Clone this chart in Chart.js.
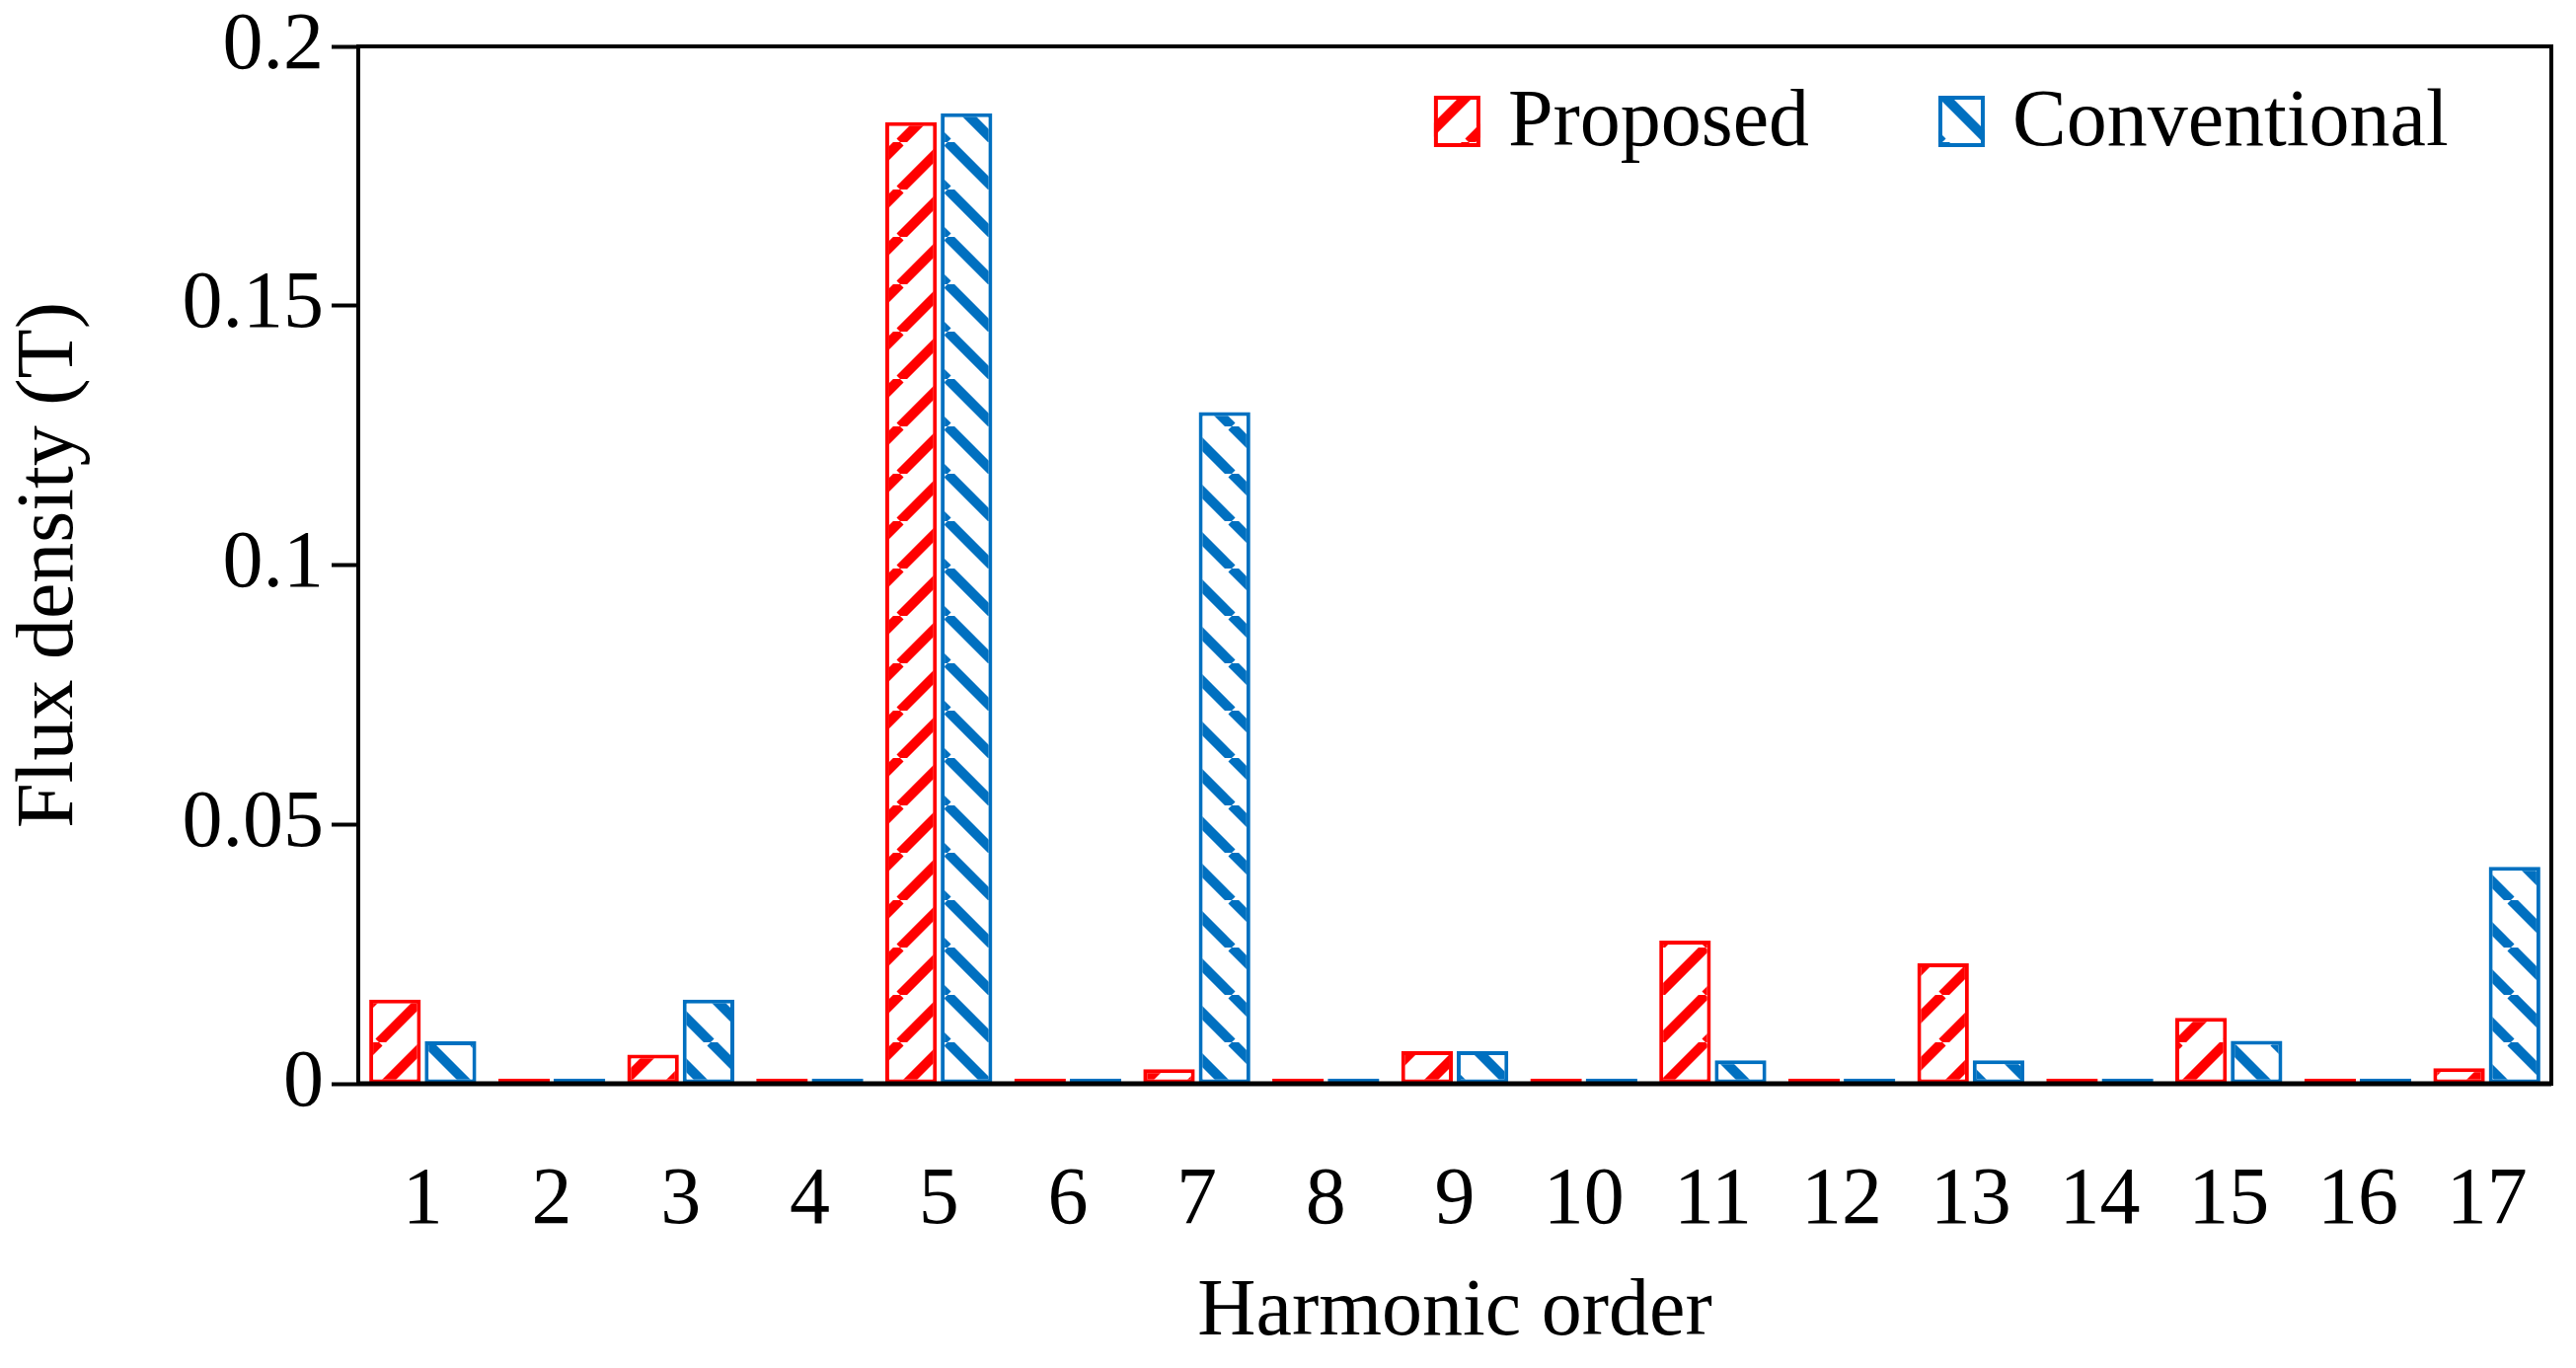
<!DOCTYPE html>
<html>
<head>
<meta charset="utf-8">
<script src="https://cdn.jsdelivr.net/npm/chart.js@4.4.1/dist/chart.umd.min.js"></script>
<style>
  html, body { margin: 0; padding: 0; background: #fff; }
</style>
</head>
<body>
<canvas id="harmonic-chart" width="2610" height="1386"></canvas>
<script>
const harmonics = ['1', '2', '3', '4', '5', '6', '7', '8', '9', '10', '11', '12', '13', '14', '15', '16', '17']
const proposed = [0.0162, 0.001, 0.0056, 0.001, 0.1854, 0.001, 0.0028, 0.001, 0.0063, 0.001, 0.0276, 0.001, 0.0232, 0.001, 0.0127, 0.001, 0.003]
const conventional = [0.0082, 0.001, 0.0162, 0.001, 0.1871, 0.001, 0.1295, 0.001, 0.0063, 0.001, 0.0045, 0.001, 0.0045, 0.001, 0.0083, 0.001, 0.0418]
const yTicks = [0, 0.05, 0.1, 0.15, 0.2]
const seriesNames = ['Proposed', 'Conventional']

const COLORS = {
  red: '#ff0000',
  blue: '#0070c0',
  black: '#000000'
}

const FONT = "'Liberation Serif', 'Times New Roman', serif"
const FONT_SIZE = 82

// diagonal hatch, "/" for proposed, "\" for conventional
const makeHatch = (color, forward) => {
  const size = 48
  const c = document.createElement('canvas')
  c.width = size
  c.height = size
  const g = c.getContext('2d')
  g.fillStyle = '#ffffff'
  g.fillRect(0, 0, size, size)
  g.strokeStyle = color
  g.lineWidth = 10
  g.beginPath()
  for (let k = -1; k <= 1; k++) {
    if (forward) {
      g.moveTo(k * size, size)
      g.lineTo(k * size + size, 0)
    } else {
      g.moveTo(k * size, 0)
      g.lineTo(k * size + size, size)
    }
  }
  g.stroke()
  return g.createPattern(c, 'repeat')
}

const redHatch = makeHatch(COLORS.red, true)
const blueHatch = makeHatch(COLORS.blue, false)

const framePlugin = {
  id: 'frame',
  afterDatasetsDraw: (chart) => {
    const {ctx, chartArea} = chart
    ctx.save()
    ctx.strokeStyle = COLORS.black
    ctx.lineWidth = 4
    ctx.strokeRect(chartArea.left, chartArea.top, chartArea.right - chartArea.left, chartArea.bottom - chartArea.top)
    ctx.lineWidth = 5
    ctx.beginPath()
    ctx.moveTo(chartArea.left, chartArea.bottom)
    ctx.lineTo(chartArea.right, chartArea.bottom)
    ctx.stroke()
    ctx.restore()
  }
}

const legendPlugin = {
  id: 'insideLegend',
  afterDraw: (chart) => {
    const {ctx, chartArea} = chart
    const w = chartArea.right - chartArea.left
    const starts = [0.4905, 0.7205]
    const fills = [redHatch, blueHatch]
    const borders = [COLORS.red, COLORS.blue]
    const rowY = chartArea.top + 76
    ctx.save()
    ctx.font = FONT_SIZE + 'px ' + FONT
    ctx.textBaseline = 'middle'
    seriesNames.forEach((name, i) => {
      const x = chartArea.left + starts[i] * w
      ctx.fillStyle = fills[i]
      ctx.fillRect(x, rowY - 26, 47, 52)
      ctx.strokeStyle = borders[i]
      ctx.lineWidth = 4
      ctx.strokeRect(x + 2, rowY - 24, 43, 48)
      ctx.fillStyle = COLORS.black
      ctx.fillText(name, x + 75, rowY + 2)
    })
    ctx.restore()
  }
}

const data = {
  labels: harmonics,
  datasets: [
    {
      label: seriesNames[0],
      data: proposed,
      backgroundColor: redHatch,
      borderColor: COLORS.red,
      borderWidth: 4,
      borderSkipped: false
    },
    {
      label: seriesNames[1],
      data: conventional,
      backgroundColor: blueHatch,
      borderColor: COLORS.blue,
      borderWidth: 4,
      borderSkipped: false
    }
  ]
}

const config = {
  type: 'bar',
  data: data,
  options: {
    responsive: false,
    animation: false,
    devicePixelRatio: 1,
    layout: {
      padding: {left: 0, right: 25, top: 47, bottom: 0}
    },
    datasets: {
      bar: {
        categoryPercentage: 0.86,
        barPercentage: 0.93
      }
    },
    plugins: {
      legend: {display: false},
      tooltip: {enabled: false}
    },
    scales: {
      x: {
        grid: {display: false, drawTicks: false},
        border: {display: false},
        ticks: {
          color: COLORS.black,
          padding: 70,
          font: {family: FONT, size: FONT_SIZE}
        },
        title: {
          display: true,
          text: 'Harmonic order',
          color: COLORS.black,
          padding: {top: 0, bottom: 6},
          font: {family: FONT, size: FONT_SIZE}
        },
        afterFit: (scale) => {
          scale.height = 288
          scale.paddingLeft = 0
          scale.paddingRight = 0
        }
      },
      y: {
        min: 0,
        max: 0.2,
        afterBuildTicks: (scale) => {
          scale.ticks = yTicks.map(v => ({value: v}))
        },
        grid: {
          drawOnChartArea: false,
          drawTicks: true,
          tickLength: 27,
          tickWidth: 4,
          color: COLORS.black
        },
        border: {display: false},
        ticks: {
          color: COLORS.black,
          padding: 8,
          font: {family: FONT, size: FONT_SIZE},
          callback: (value) => String(value)
        },
        title: {
          display: true,
          text: 'Flux density (T)',
          color: COLORS.black,
          padding: {top: 2, bottom: 0},
          font: {family: FONT, size: FONT_SIZE}
        },
        afterFit: (scale) => {
          scale.width = 363
          scale.paddingTop = 0
          scale.paddingBottom = 0
        }
      }
    }
  },
  plugins: [framePlugin, legendPlugin]
}

const ctx = document.getElementById('harmonic-chart')
const harmonicChart = new Chart(ctx, config)
</script>
</body>
</html>
